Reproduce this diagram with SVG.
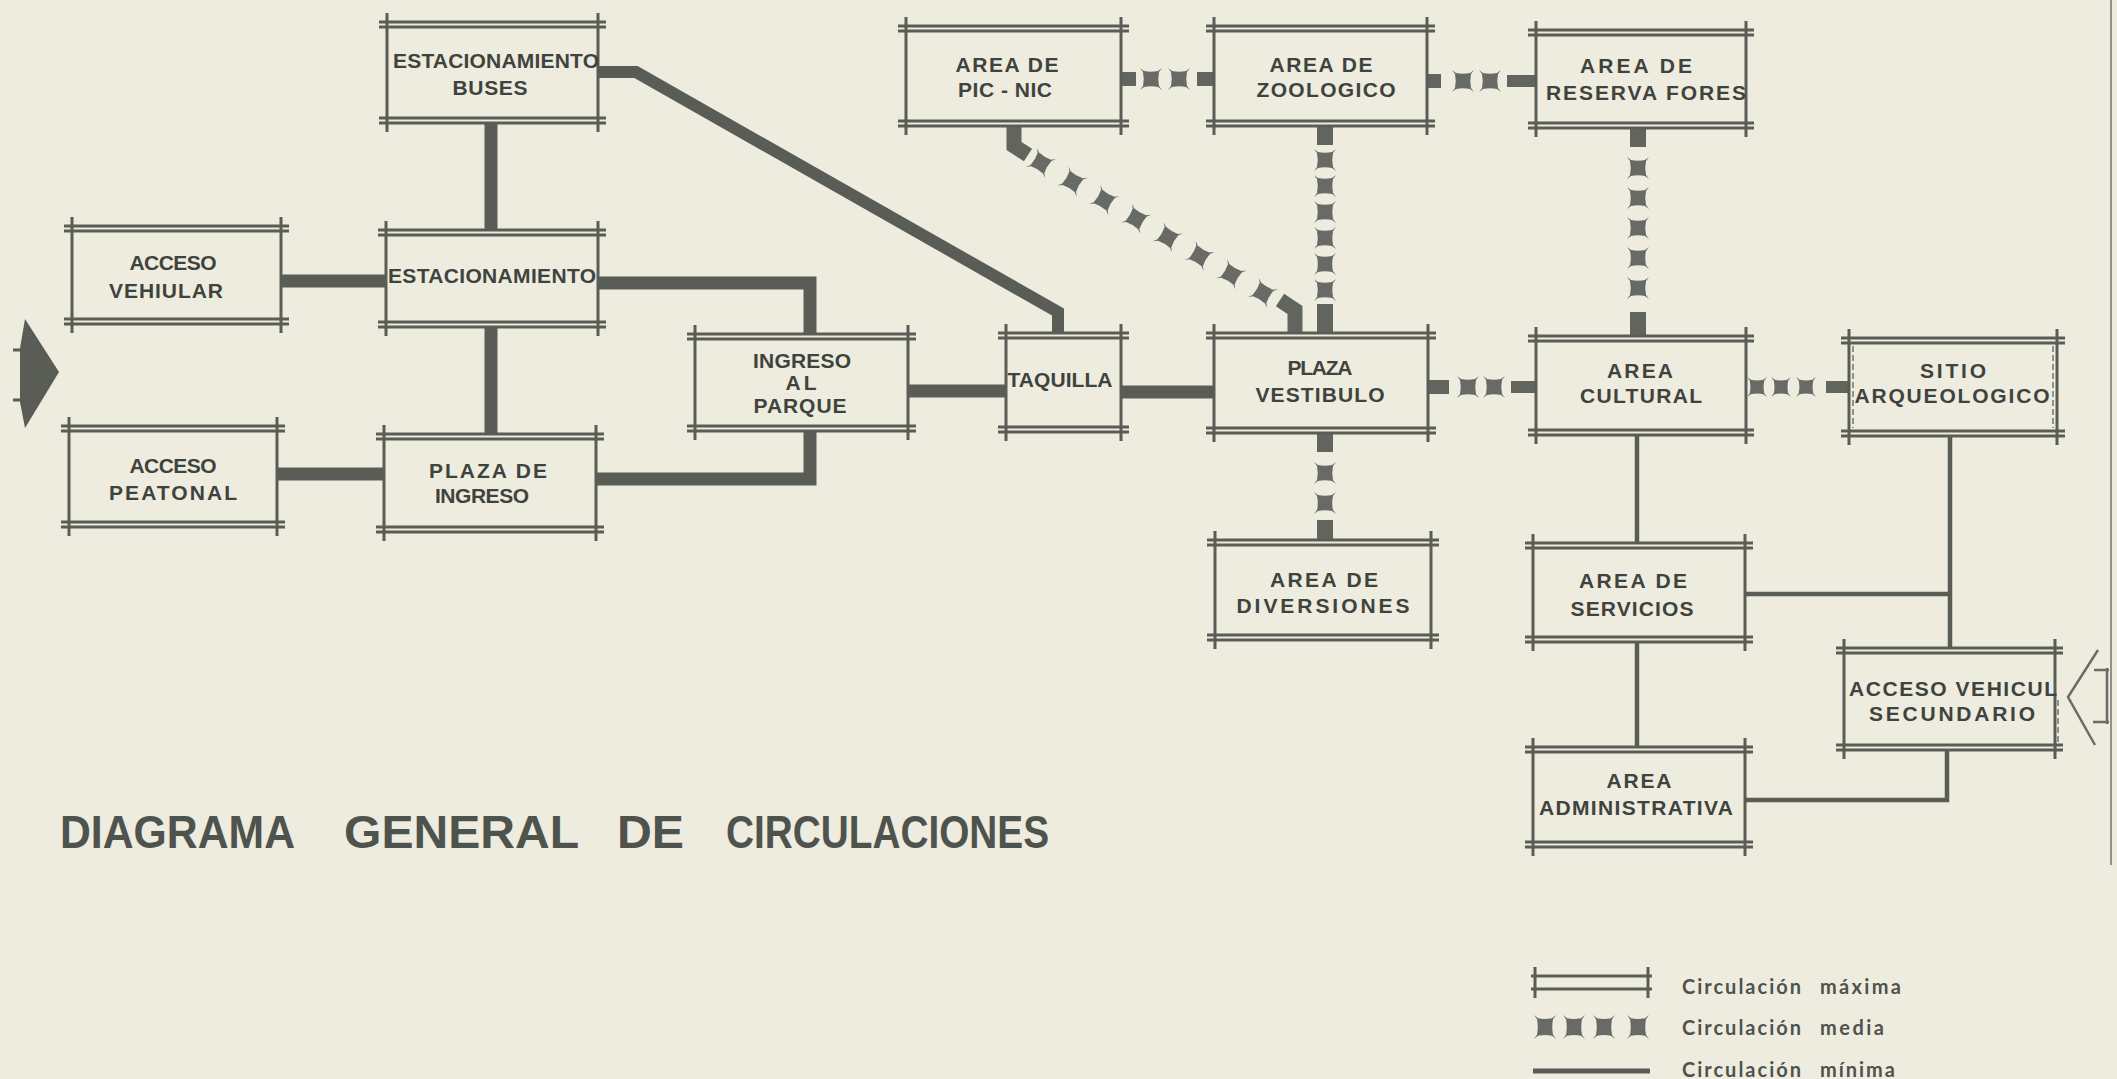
<svg xmlns="http://www.w3.org/2000/svg" xmlns:xlink="http://www.w3.org/1999/xlink" width="2117" height="1079" viewBox="0 0 2117 1079">
<style>
.bg{fill:#edecdf}
.bx{fill:none;stroke:#5a5c56;stroke-width:3}
.dsh{fill:none;stroke:#6a6c66;stroke-width:1.4;stroke-dasharray:6 3}
.t{font-family:"Liberation Sans",Arial,sans-serif;font-weight:bold;font-size:21px;fill:#3f433e;text-anchor:middle}
.thick{fill:none;stroke:#5a5c56;stroke-width:13;stroke-linejoin:miter}
.thin{fill:none;stroke:#5a5c56;stroke-width:4.5;stroke-linejoin:miter}
.stub{fill:#62645e}
.stubl{fill:none;stroke:#62645e;stroke-width:15;stroke-linejoin:miter}
.blk{fill:#686b65}
.title{font-family:"Liberation Sans",Arial,sans-serif;font-weight:bold;font-size:46px;fill:#4f534d}
.leg{font-family:Lato,"Liberation Sans",sans-serif;font-weight:bold;font-size:20px;fill:#4f524d}
.arr{fill:none;stroke:#6a6c66;stroke-width:2.5}
</style>
<defs>
<path id="blk" class="blk" d="M-11,-11 L-7,-8 Q0,-6.5 7,-8 L11,-11 L8,-7 Q6.5,0 8,7 L11,11 L7,8 Q0,6.5 -7,8 L-11,11 L-8,7 Q-6.5,0 -8,-7 Z"/>
</defs>
<rect class="bg" x="0" y="0" width="2117" height="1079"/>
<line x1="2111" y1="0" x2="2111" y2="865" stroke="#8f918a" stroke-width="2"/>

<g id="connectors">
  <!-- maximum circulation (thick) -->
  <path class="thick" d="M491,123V230"/>
  <path class="thick" d="M281,281H386"/>
  <path class="thick" d="M491,327V434"/>
  <path class="thick" d="M277,474H384"/>
  <path class="thick" d="M598,283H810V334"/>
  <path class="thick" d="M596,479H810V431"/>
  <path class="thick" d="M908,391H1006"/>
  <path class="thick" d="M1121,392H1214"/>
  <path class="thick" style="stroke-width:12" d="M598,72H636L1058,312V333"/>
  <!-- minimum circulation (thin) -->
  <path class="thin" d="M1637,435V543"/>
  <path class="thin" d="M1637,642V747"/>
  <path class="thin" d="M1950,436V648"/>
  <path class="thin" d="M1745,594H1950"/>
  <path class="thin" d="M1745,800H1947V750"/>
  <!-- medium circulation (blocks) -->
  <g id="m-picnic-zoo">
    <rect class="stub" x="1121" y="72" width="15" height="14"/>
    <use xlink:href="#blk" transform="translate(1151,79)"/>
    <use xlink:href="#blk" transform="translate(1179,79)"/>
    <rect class="stub" x="1197" y="72" width="17" height="14"/>
  </g>
  <g id="m-zoo-reserva">
    <rect class="stub" x="1427" y="74" width="14" height="14"/>
    <use xlink:href="#blk" transform="translate(1463,81)"/>
    <use xlink:href="#blk" transform="translate(1490,81)"/>
    <rect class="stub" x="1507" y="75" width="29" height="12"/>
  </g>
  <g id="m-vest-cultural">
    <rect class="stub" x="1428" y="380" width="21" height="14"/>
    <use xlink:href="#blk" transform="translate(1468,387)"/>
    <use xlink:href="#blk" transform="translate(1494,387)"/>
    <rect class="stub" x="1511" y="381" width="25" height="12"/>
  </g>
  <g id="m-cultural-sitio">
    <use xlink:href="#blk" transform="translate(1757,387) scale(0.9)"/>
    <use xlink:href="#blk" transform="translate(1781,387) scale(0.9)"/>
    <use xlink:href="#blk" transform="translate(1806,387) scale(0.9)"/>
    <rect class="stub" x="1826" y="381" width="23" height="12"/>
  </g>
  <g id="m-zoo-vest">
    <rect class="stub" x="1317" y="126" width="16" height="19"/>
    <use xlink:href="#blk" transform="translate(1325,160)"/>
    <use xlink:href="#blk" transform="translate(1325,186)"/>
    <use xlink:href="#blk" transform="translate(1325,212)"/>
    <use xlink:href="#blk" transform="translate(1325,238)"/>
    <use xlink:href="#blk" transform="translate(1325,264)"/>
    <use xlink:href="#blk" transform="translate(1325,290)"/>
    <rect class="stub" x="1317" y="304" width="16" height="29"/>
  </g>
  <g id="m-reserva-cultural">
    <rect class="stub" x="1630" y="128" width="16" height="19"/>
    <use xlink:href="#blk" transform="translate(1638,168)"/>
    <use xlink:href="#blk" transform="translate(1638,198)"/>
    <use xlink:href="#blk" transform="translate(1638,228)"/>
    <use xlink:href="#blk" transform="translate(1638,258)"/>
    <use xlink:href="#blk" transform="translate(1638,288)"/>
    <rect class="stub" x="1630" y="312" width="16" height="24"/>
  </g>
  <g id="m-vest-diversiones">
    <rect class="stub" x="1317" y="433" width="16" height="19"/>
    <use xlink:href="#blk" transform="translate(1325,473)"/>
    <use xlink:href="#blk" transform="translate(1325,503)"/>
    <rect class="stub" x="1317" y="520" width="16" height="20"/>
  </g>
  <g id="m-picnic-vest">
    <path class="stubl" d="M1014,126V146L1028,155"/>
    <use xlink:href="#blk" transform="translate(1041,163) rotate(30.4)"/>
    <use xlink:href="#blk" transform="translate(1072.7,181.6) rotate(30.4)"/>
    <use xlink:href="#blk" transform="translate(1104.4,200.1) rotate(30.4)"/>
    <use xlink:href="#blk" transform="translate(1136.1,218.7) rotate(30.4)"/>
    <use xlink:href="#blk" transform="translate(1167.9,237.3) rotate(30.4)"/>
    <use xlink:href="#blk" transform="translate(1199.6,255.9) rotate(30.4)"/>
    <use xlink:href="#blk" transform="translate(1231.3,274.4) rotate(30.4)"/>
    <use xlink:href="#blk" transform="translate(1263,293) rotate(30.4)"/>
    <path class="stubl" d="M1280,300L1295,310V333"/>
  </g>
</g>

<g id="n-est-buses">
  <path class="bx" d="M379,22H606M379,27H606M379,118H606M379,123H606M387,13V132M598,13V132"/>
  <text class="t" x="496" y="68" textLength="206" lengthAdjust="spacing">ESTACIONAMIENTO</text>
  <text class="t" x="490" y="95" textLength="75" lengthAdjust="spacing">BUSES</text>
</g>
<g id="n-acceso-vehiular">
  <path class="bx" d="M64,226H289M64,231H289M64,319H289M64,324H289M72,217V333M281,217V333"/>
  <text class="t" x="173" y="270" textLength="87" lengthAdjust="spacing">ACCESO</text>
  <text class="t" x="166" y="298" textLength="114" lengthAdjust="spacing">VEHIULAR</text>
</g>
<g id="n-estacionamiento">
  <path class="bx" d="M378,230H606M378,235H606M378,322H606M378,327H606M386,221V336M598,221V336"/>
  <text class="t" x="492" y="283" textLength="208" lengthAdjust="spacing">ESTACIONAMIENTO</text>
</g>
<g id="n-acceso-peatonal">
  <path class="bx" d="M61,426H285M61,431H285M61,522H285M61,527H285M69,417V536M277,417V536"/>
  <text class="t" x="173" y="473" textLength="87" lengthAdjust="spacing">ACCESO</text>
  <text class="t" x="173" y="500" textLength="128" lengthAdjust="spacing">PEATONAL</text>
</g>
<g id="n-plaza-ingreso">
  <path class="bx" d="M376,434H604M376,439H604M376,527H604M376,532H604M384,425V541M596,425V541"/>
  <text class="t" x="488" y="478" textLength="118" lengthAdjust="spacing">PLAZA DE</text>
  <text class="t" x="482" y="503" textLength="94" lengthAdjust="spacing">INGRESO</text>
</g>
<g id="n-ingreso-parque">
  <path class="bx" d="M687,334H916M687,339H916M687,426H916M687,431H916M695,325V440M908,325V440"/>
  <text class="t" x="802" y="368" textLength="98" lengthAdjust="spacing">INGRESO</text>
  <text class="t" x="801" y="390" textLength="31" lengthAdjust="spacing">AL</text>
  <text class="t" x="800" y="413" textLength="93" lengthAdjust="spacing">PARQUE</text>
</g>
<g id="n-taquilla">
  <path class="bx" d="M998,333H1129M998,338H1129M998,427H1129M998,432H1129M1006,324V441M1121,324V441"/>
  <text class="t" x="1060" y="387" textLength="105" lengthAdjust="spacing">TAQUILLA</text>
</g>
<g id="n-picnic">
  <path class="bx" d="M898,26H1129M898,31H1129M898,121H1129M898,126H1129M906,17V135M1121,17V135"/>
  <text class="t" x="1007" y="72" textLength="103" lengthAdjust="spacing">AREA DE</text>
  <text class="t" x="1005" y="97" textLength="94" lengthAdjust="spacing">PIC - NIC</text>
</g>
<g id="n-zoologico">
  <path class="bx" d="M1206,26H1435M1206,31H1435M1206,121H1435M1206,126H1435M1214,17V135M1427,17V135"/>
  <text class="t" x="1321" y="72" textLength="103" lengthAdjust="spacing">AREA DE</text>
  <text class="t" x="1326" y="97" textLength="139" lengthAdjust="spacing">ZOOLOGICO</text>
</g>
<g id="n-reserva">
  <path class="bx" d="M1528,30H1754M1528,35H1754M1528,123H1754M1528,128H1754M1536,21V137M1746,21V137"/>
  <text class="t" x="1636" y="73" textLength="112" lengthAdjust="spacing">AREA DE</text>
  <text class="t" x="1646" y="100" textLength="200" lengthAdjust="spacing">RESERVA FORES</text>
</g>
<g id="n-plaza-vestibulo">
  <path class="bx" d="M1206,333H1436M1206,338H1436M1206,428H1436M1206,433H1436M1214,324V442M1428,324V442"/>
  <text class="t" x="1320" y="375" textLength="65" lengthAdjust="spacing">PLAZA</text>
  <text class="t" x="1320" y="402" textLength="129" lengthAdjust="spacing">VESTIBULO</text>
</g>
<g id="n-cultural">
  <path class="bx" d="M1528,336H1754M1528,341H1754M1528,430H1754M1528,435H1754M1536,327V444M1746,327V444"/>
  <text class="t" x="1640" y="378" textLength="66" lengthAdjust="spacing">AREA</text>
  <text class="t" x="1641" y="403" textLength="122" lengthAdjust="spacing">CULTURAL</text>
</g>
<g id="n-sitio">
  <path class="bx" d="M1841,338H2065M1841,343H2065M1841,431H2065M1841,436H2065M1849,329V445M2057,329V445"/>
  <path class="dsh" d="M1853,346V428M2053,346V428"/>
  <text class="t" x="1953" y="378" textLength="66" lengthAdjust="spacing">SITIO</text>
  <text class="t" x="1952" y="403" textLength="195" lengthAdjust="spacing">ARQUEOLOGICO</text>
</g>
<g id="n-diversiones">
  <path class="bx" d="M1207,540H1439M1207,545H1439M1207,635H1439M1207,640H1439M1215,531V649M1431,531V649"/>
  <text class="t" x="1324" y="587" textLength="108" lengthAdjust="spacing">AREA DE</text>
  <text class="t" x="1323" y="613" textLength="173" lengthAdjust="spacing">DIVERSIONES</text>
</g>
<g id="n-servicios">
  <path class="bx" d="M1525,543H1753M1525,548H1753M1525,637H1753M1525,642H1753M1533,534V651M1745,534V651"/>
  <text class="t" x="1633" y="588" textLength="108" lengthAdjust="spacing">AREA DE</text>
  <text class="t" x="1632" y="616" textLength="123" lengthAdjust="spacing">SERVICIOS</text>
</g>
<g id="n-acceso-secundario">
  <path class="bx" d="M1836,648H2063M1836,653H2063M1836,745H2063M1836,750H2063M1844,639V759M2055,639V759"/>
  <path class="dsh" d="M2058,700V745"/>
  <text class="t" x="1953" y="696" textLength="208" lengthAdjust="spacing">ACCESO VEHICUL</text>
  <text class="t" x="1952" y="721" textLength="166" lengthAdjust="spacing">SECUNDARIO</text>
</g>
<g id="n-administrativa">
  <path class="bx" d="M1525,747H1753M1525,752H1753M1525,842H1753M1525,847H1753M1533,738V856M1745,738V856"/>
  <text class="t" x="1639" y="788" textLength="65" lengthAdjust="spacing">AREA</text>
  <text class="t" x="1636" y="815" textLength="194" lengthAdjust="spacing">ADMINISTRATIVA</text>
</g>

<g id="arrow-left">
  <polygon points="25,319 59,372 25,428 20,402 20,348" fill="#5a5c56"/>
  <path d="M13,350H24M13,400H24" stroke="#5a5c56" stroke-width="3"/>
</g>
<g id="arrow-right">
  <polyline class="arr" points="2098,650 2068,697 2095,745"/>
  <path class="arr" d="M2094,670H2109M2107,668V724M2093,722H2109"/>
</g>

<g id="title">
  <text class="title" x="60" y="848" textLength="235" lengthAdjust="spacingAndGlyphs">DIAGRAMA</text>
  <text class="title" x="344" y="848" textLength="235" lengthAdjust="spacingAndGlyphs">GENERAL</text>
  <text class="title" x="617" y="848" textLength="67" lengthAdjust="spacingAndGlyphs">DE</text>
  <text class="title" x="726" y="848" textLength="323" lengthAdjust="spacingAndGlyphs">CIRCULACIONES</text>
</g>

<g id="legend">
  <path class="bx" d="M1531,976H1652M1531,989H1652M1535,967V998M1648,967V998"/>
  <use xlink:href="#blk" transform="translate(1545,1027) scale(1,1.1)"/>
  <use xlink:href="#blk" transform="translate(1574,1027) scale(1,1.1)"/>
  <use xlink:href="#blk" transform="translate(1604,1027) scale(1,1.1)"/>
  <use xlink:href="#blk" transform="translate(1638,1027) scale(1,1.1)"/>
  <path d="M1533,1071H1650" stroke="#5a5c56" stroke-width="5"/>
  <text class="leg" x="1682" y="994" textLength="119" lengthAdjust="spacing">Circulación</text>
  <text class="leg" x="1820" y="994" textLength="81" lengthAdjust="spacing">máxima</text>
  <text class="leg" x="1682" y="1035" textLength="119" lengthAdjust="spacing">Circulación</text>
  <text class="leg" x="1820" y="1035" textLength="64" lengthAdjust="spacing">media</text>
  <text class="leg" x="1682" y="1077" textLength="119" lengthAdjust="spacing">Circulación</text>
  <text class="leg" x="1820" y="1077" textLength="75" lengthAdjust="spacing">mínima</text>
</g>
</svg>
